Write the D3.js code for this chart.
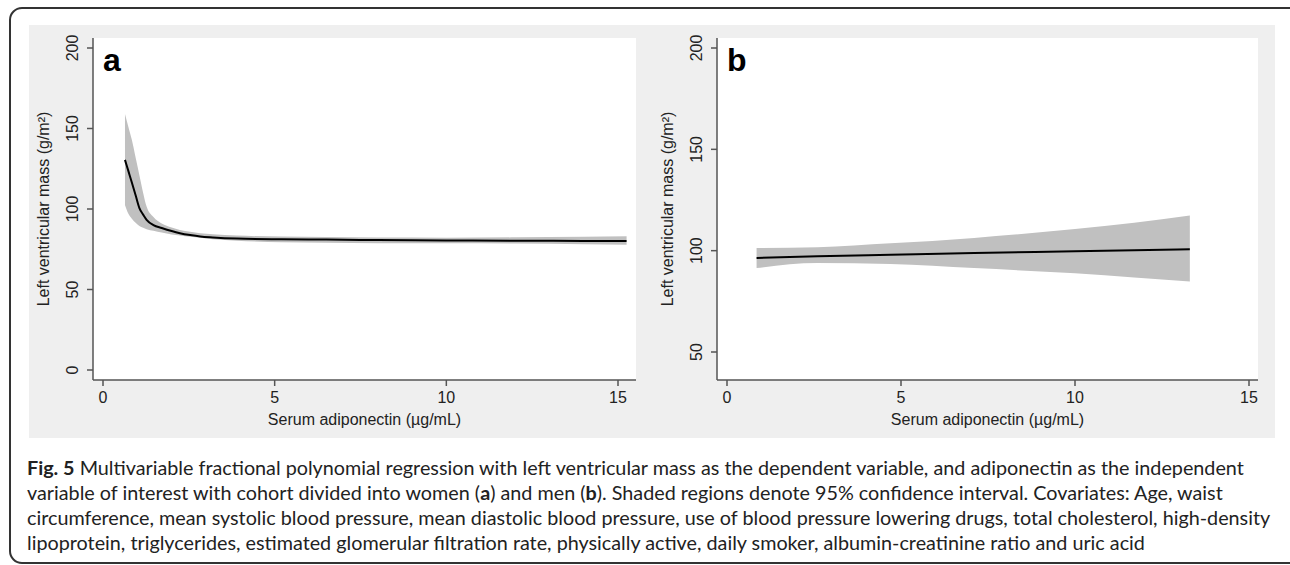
<!DOCTYPE html>
<html>
<head>
<meta charset="utf-8">
<script src="https://cdn.jsdelivr.net/npm/d3@7"></script>
<style>
  body { margin: 0; background: #fff; }
  svg { display: block; }
</style>
</head>
<body>
<div id="chart"></div>
<script>
// panel a (women)
const aX     = [0.64, 0.74, 0.84, 0.95, 1.06, 1.17, 1.27, 1.47, 1.71, 2.0, 2.24, 2.54, 2.83, 3.2, 3.9, 5.2, 6.5, 8.0, 10.0, 12.0, 14.0, 15.25];
const aFit   = [130.5, 123.5, 116.5, 108.5, 100.5, 96.5, 93.3, 90, 88.2, 86.3, 85, 83.8, 82.9, 82.3, 81.6, 81.2, 81, 80.7, 80.5, 80.3, 80.2, 80.1];
const aUpper = [159, 151, 143, 132, 121, 110, 101.5, 95, 91, 88.5, 87, 85.8, 85, 84.3, 83.5, 82.9, 82.6, 82.3, 82.2, 82.4, 82.7, 83];
const aLower = [102.5, 97, 94, 91.5, 89.5, 88.3, 87.5, 86.5, 85.4, 84.2, 83.6, 82.8, 82.1, 81.2, 80.3, 79.3, 79, 78.8, 78.7, 78.5, 78.1, 77.8];

// panel b (men)
const bX     = [0.85, 2.6, 4.7, 7.1, 10.0, 11.7, 13.3];
const bFit   = [96.4, 97.2, 98.0, 98.9, 99.7, 100.2, 100.7];
const bUpper = [101.3, 101.7, 103.6, 106.3, 110.7, 113.8, 117.3];
const bLower = [91.4, 93.9, 93.4, 91.4, 88.8, 86.8, 84.8];

const xTicks = [0, 5, 10, 15];
const aYTicks = [0, 50, 100, 150, 200];
const bYTicks = [50, 100, 150, 200];

const xTitle = 'Serum adiponectin (\u00b5g/mL)';
const yTitle = 'Left ventricular mass (g/m\u00b2)';

const captionLines = [
  [['Fig. 5', true], [' Multivariable fractional polynomial regression with left ventricular mass as the dependent variable, and adiponectin as the independent', false]],
  [['variable of interest with cohort divided into women (', false], ['a', true], [') and men (', false], ['b', true], ['). Shaded regions denote 95% confidence interval. Covariates: Age, waist', false]],
  [['circumference, mean systolic blood pressure, mean diastolic blood pressure, use of blood pressure lowering drugs, total cholesterol, high-density', false]],
  [['lipoprotein, triglycerides, estimated glomerular filtration rate, physically active, daily smoker, albumin-creatinine ratio and uric acid', false]]
];

const width = 1290, height = 565;
const svg = d3.select('#chart').append('svg')
  .attr('width', width)
  .attr('height', height);

// outer frame
svg.append('rect')
  .attr('x', 10).attr('y', 8)
  .attr('width', 1300).attr('height', 555)
  .attr('rx', 12)
  .attr('fill', 'none')
  .attr('stroke', '#333')
  .attr('stroke-width', 2);

// grey graph background
svg.append('rect')
  .attr('x', 29).attr('y', 25)
  .attr('width', 1246).attr('height', 413)
  .attr('fill', '#efefef');

const axisFont = "'Liberation Sans', Arial, sans-serif";

function drawPanel(p) {
  const g = svg.append('g');
  const x = d3.scaleLinear().domain([0, 15]).range([p.x0, p.x15]);
  const y = d3.scaleLinear().domain(p.yDomain).range(p.yRange);

  g.append('rect')
    .attr('x', p.left).attr('y', 38)
    .attr('width', p.right - p.left).attr('height', 380 - 38)
    .attr('fill', '#fff');

  const pts = p.xs.map((v, i) => ({ x: v, fit: p.fit[i], lo: p.lo[i], hi: p.hi[i] }));

  g.append('path')
    .datum(pts)
    .attr('fill', '#c0c0c0')
    .attr('d', d3.area().x(d => x(d.x)).y0(d => y(d.lo)).y1(d => y(d.hi)).curve(d3.curveMonotoneX));

  g.append('path')
    .datum(pts)
    .attr('fill', 'none')
    .attr('stroke', '#000')
    .attr('stroke-width', 2)
    .attr('d', d3.line().x(d => x(d.x)).y(d => y(d.fit)).curve(d3.curveMonotoneX));

  // axes
  const ax = g.append('g').attr('stroke', '#555').attr('stroke-width', 1.5);
  ax.append('line').attr('x1', p.left).attr('x2', p.right).attr('y1', 380).attr('y2', 380);
  ax.append('line').attr('x1', p.left).attr('x2', p.left).attr('y1', 38).attr('y2', 380);
  ax.selectAll('.xt').data(xTicks).enter().append('line')
    .attr('x1', d => x(d)).attr('x2', d => x(d)).attr('y1', 380).attr('y2', 386);
  ax.selectAll('.yt').data(p.yTicks).enter().append('line')
    .attr('x1', p.left - 6).attr('x2', p.left).attr('y1', d => y(d)).attr('y2', d => y(d));

  g.selectAll('.xl').data(xTicks).enter().append('text')
    .attr('x', d => x(d)).attr('y', 403)
    .attr('text-anchor', 'middle')
    .style('font-family', axisFont).style('font-size', '16px').attr('fill', '#222')
    .text(d => d);

  g.selectAll('.yl').data(p.yTicks).enter().append('text')
    .attr('transform', d => `translate(${p.left - 15},${y(d)}) rotate(-90)`)
    .attr('text-anchor', 'middle')
    .style('font-family', axisFont).style('font-size', '16px').attr('fill', '#222')
    .text(d => d);

  g.append('text')
    .attr('x', (p.left + p.right) / 2).attr('y', 425)
    .attr('text-anchor', 'middle')
    .style('font-family', axisFont).style('font-size', '16px').attr('fill', '#222')
    .text(xTitle);

  g.append('text')
    .attr('transform', `translate(${p.left - 44},${(38 + 380) / 2}) rotate(-90)`)
    .attr('text-anchor', 'middle')
    .style('font-family', axisFont).style('font-size', '16px').attr('fill', '#222')
    .text(yTitle);

  g.append('text')
    .attr('x', p.left + 10).attr('y', 71)
    .style('font-family', axisFont).style('font-size', '32px').style('font-weight', 'bold')
    .attr('fill', '#000')
    .text(p.label);
}

drawPanel({ label: 'a', left: 93, right: 636, x0: 103, x15: 618,
  yDomain: [0, 200], yRange: [370, 48], yTicks: aYTicks,
  xs: aX, fit: aFit, lo: aLower, hi: aUpper });

drawPanel({ label: 'b', left: 717, right: 1258, x0: 727, x15: 1249,
  yDomain: [50, 200], yRange: [352, 48], yTicks: bYTicks,
  xs: bX, fit: bFit, lo: bLower, hi: bUpper });

// caption
const cap = svg.append('g')
  .style('font-family', "Lato, 'Open Sans', sans-serif")
  .attr('fill', '#222');

const capText = captionLines.map((parts, i) => {
  const t = cap.append('text').attr('x', 27).attr('y', 475 + i * 25).style('font-size', '17px');
  parts.forEach(([s, b]) => {
    t.append('tspan').style('font-weight', b ? 'bold' : 'normal').text(s);
  });
  return t;
});

// fit the font so the first line spans the same width as in the figure
const w0 = capText[0].node().getComputedTextLength();
const fs = 17 * 1218 / w0;
capText.forEach(t => t.style('font-size', fs + 'px'));
</script>
</body>
</html>
